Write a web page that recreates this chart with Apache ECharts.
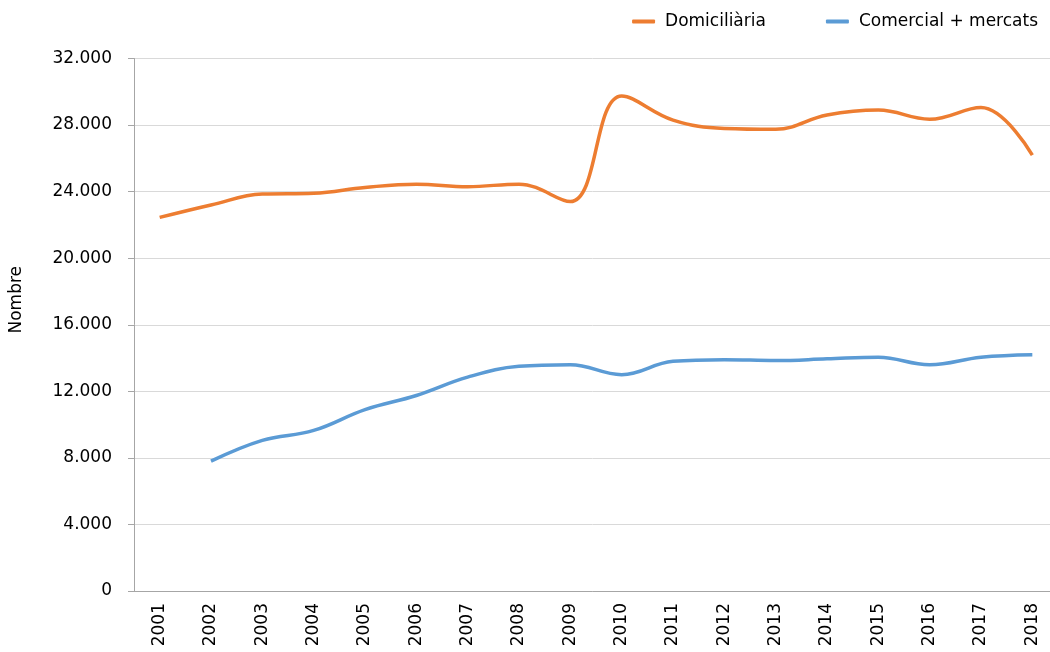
<!DOCTYPE html>
<html>
<head>
<meta charset="utf-8">
<script src="https://cdn.jsdelivr.net/npm/echarts@6/dist/echarts.min.js"></script>
<style>
html, body { margin: 0; padding: 0; background: #fff; }
#chart { width: 1050px; height: 652px; }
</style>
</head>
<body>
<div id="chart"></div>
<script>
// anys
var years = ['2001','2002','2003','2004','2005','2006','2007','2008','2009',
             '2010','2011','2012','2013','2014','2015','2016','2017','2018'];
// domiciliària
var domiciliaria = [22450, 23200, 23850, 23900, 24250, 24450, 24300, 24450, 23400,
                    29750, 28300, 27800, 27750, 28600, 28900, 28350, 29050, 26200];
// comercial + mercats
var comercial = [null, 7800, 9050, 9650, 10900, 11750, 12850, 13500, 13600,
                 13000, 13800, 13900, 13850, 13950, 14050, 13600, 14050, 14200];

var fontName = 'DejaVu Sans';

function fmt(v) {
    return String(v).replace(/\B(?=(\d{3})+(?!\d))/g, '.');
}

var myChart = echarts.init(document.getElementById('chart'));
var option = {
    animation: false,
    textStyle: { fontFamily: fontName },
    legend: {
        top: 8,
        right: 7,
        itemWidth: 23,
        itemHeight: 4,
        itemGap: 60,
        icon: 'roundRect',
        textStyle: { fontSize: 17, color: '#000', fontFamily: fontName, padding: [0, 0, 0, 5] },
        data: ['Domiciliària', 'Comercial + mercats']
    },
    grid: {
        left: 134,
        width: 924,
        top: 58.5,
        bottom: 61,
        outerBoundsMode: 'none'
    },
    xAxis: {
        type: 'category',
        boundaryGap: true,
        data: years,
        axisLine: { lineStyle: { color: '#a6a6a6', width: 1 } },
        axisTick: { show: false },
        axisLabel: { rotate: 90, fontSize: 17, color: '#000', margin: 12 }
    },
    yAxis: {
        type: 'value',
        min: 0,
        max: 32000,
        interval: 4000,
        name: 'Nombre',
        nameLocation: 'middle',
        nameGap: 109,
        nameTextStyle: { fontSize: 17, color: '#000', padding: [0, 0, 0, 50] },
        axisLine: { show: true, lineStyle: { color: '#a6a6a6', width: 1 } },
        axisTick: { show: true, length: 6, lineStyle: { color: '#a6a6a6' } },
        axisLabel: { fontSize: 17, color: '#000', margin: 22, formatter: fmt },
        splitLine: { lineStyle: { color: '#d9d9d9', width: 1 } }
    },
    series: [
        {
            name: 'Domiciliària',
            type: 'line',
            smooth: 0.4,
            symbol: 'none',
            data: domiciliaria,
            itemStyle: { color: '#ED7D31' },
            lineStyle: { color: '#ED7D31', width: 3.5 }
        },
        {
            name: 'Comercial + mercats',
            type: 'line',
            smooth: 0.4,
            symbol: 'none',
            data: comercial,
            itemStyle: { color: '#5B9BD5' },
            lineStyle: { color: '#5B9BD5', width: 3.5 }
        }
    ]
};
myChart.setOption(option);
</script>
</body>
</html>
